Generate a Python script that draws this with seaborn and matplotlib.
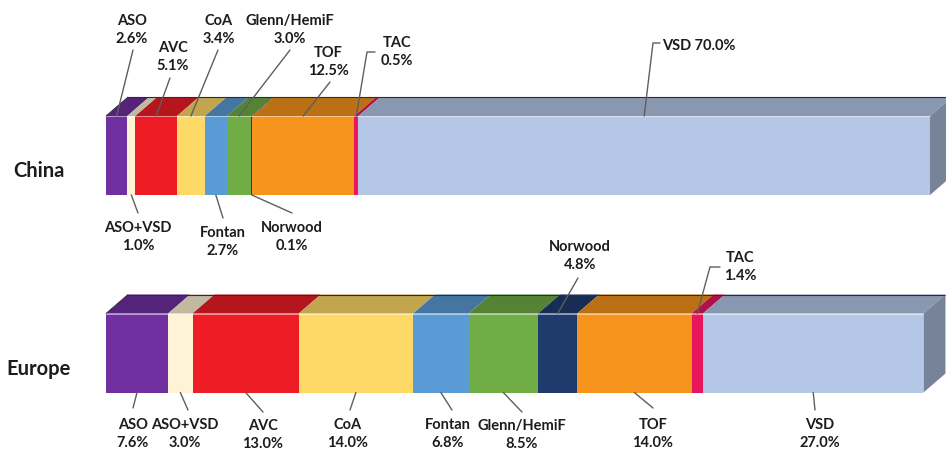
import matplotlib
matplotlib.use("Agg")
import matplotlib.pyplot as plt
import numpy as np
import pandas as pd
import seaborn as sns
from matplotlib.patches import Polygon
from matplotlib.colors import to_rgb

# ---- data -------------------------------------------------------------
regions = ["China", "Europe"]
procedures = ["ASO", "ASO+VSD", "AVC", "CoA", "Fontan", "Glenn/HemiF",
              "Norwood", "TOF", "TAC", "VSD"]
china_pct = [2.6, 1.0, 5.1, 3.4, 2.7, 3.0, 0.1, 12.5, 0.5, 70.0]
europe_pct = [7.6, 3.0, 13.0, 14.0, 6.8, 8.5, 4.8, 14.0, 1.4, 27.0]
colors = ["#7030A0", "#FFF3D6", "#EE1C25", "#FFD966", "#5B9BD5", "#70AD47",
          "#1F3B6E", "#F7941D", "#E8175D", "#B4C7E7"]

# ---- layout (pixels of a 946x450 canvas) ------------------------------
W, H = 946, 450
X0_PX = 106                    # where 0 % sits
PX_PER_PCT = 824 / 100.9
ROW_PX = [155.5, 353.0]        # vertical centres of the two bars
ROW_GAP = ROW_PX[1] - ROW_PX[0]
BAR_H = 0.40                   # bar thickness in category units
DEPTH_X, DEPTH_Y = 22, 19      # oblique depth of the 3-D faces, pixels

# label placement: side, text centre, leader points (text end first)
label_layout = {
    ("China", "ASO"): ("top", (132, 30), [(133, 50)]),
    ("China", "ASO+VSD"): ("bottom", (138, 237), [(138, 213)]),
    ("China", "AVC"): ("top", (173, 57), [(170, 78)]),
    ("China", "CoA"): ("top", (219, 30), [(218, 50)]),
    ("China", "Fontan"): ("bottom", (223, 242), [(223, 218)]),
    ("China", "Glenn/HemiF"): ("top", (290, 30), [(290, 50)]),
    ("China", "Norwood"): ("bottom", (292, 237), [(292, 213)]),
    ("China", "TOF"): ("top", (328, 62), [(330, 82)]),
    ("China", "TAC"): ("top", (397, 52), [(375, 52), (367, 52)]),
    ("China", "VSD"): ("inline", (699, 46), [(660, 43), (653, 43)]),
    ("Europe", "ASO"): ("bottom", (133, 434), [(133, 408)]),
    ("Europe", "ASO+VSD"): ("bottom", (185, 434), [(188, 410)]),
    ("Europe", "AVC"): ("bottom", (263, 435), [(263, 412)]),
    ("Europe", "CoA"): ("bottom", (348, 434), [(350, 410)]),
    ("Europe", "Fontan"): ("bottom", (448, 434), [(452, 410)]),
    ("Europe", "Glenn/HemiF"): ("bottom", (522, 435), [(522, 412)]),
    ("Europe", "Norwood"): ("top", (580, 256), [(578, 278)]),
    ("Europe", "TOF"): ("bottom", (653, 434), [(653, 408)]),
    ("Europe", "TAC"): ("top", (740, 267), [(720, 267), (710, 267)]),
    ("Europe", "VSD"): ("bottom", (820, 434), [(815, 410)]),
}


def px_to_data(px, py):
    return (px - X0_PX) / PX_PER_PCT, (py - ROW_PX[0]) / ROW_GAP


def shade(c, f):
    r, g, b = to_rgb(c)
    return (r * f, g * f, b * f)


# ---- tidy table with stacked extents ---------------------------------
rows = []
for region, vals in zip(regions, [china_pct, europe_pct]):
    left = 0.0
    for proc, v, col in zip(procedures, vals, colors):
        rows.append(dict(region=region, procedure=proc, value=v,
                         left=left, right=left + v, color=col))
        left += v
df = pd.DataFrame(rows)

sns.set_theme(style="white")
plt.rcParams["font.family"] = ["Lato", "DejaVu Sans"]

fig = plt.figure(figsize=(W / 100, H / 100), dpi=100)
ax = fig.add_axes([0, 0, 1, 1])

# front faces: cumulative bars, widest first so each segment shows through
for proc, col in zip(reversed(procedures), reversed(colors)):
    sub = df[df["procedure"] == proc]
    sns.barplot(data=sub, x="right", y="region", order=regions, orient="h",
                color=col, saturation=1, width=BAR_H, linewidth=0,
                ax=ax, zorder=2)

dx = DEPTH_X / PX_PER_PCT
dy = DEPTH_Y / ROW_GAP
half = BAR_H / 2

# top faces and the right-hand end face
for i, region in enumerate(regions):
    sub = df[df["region"] == region]
    ytop = i - half
    for _, r in sub.iterrows():
        poly = [(r.left, ytop), (r.right, ytop),
                (r.right + dx, ytop - dy), (r.left + dx, ytop - dy)]
        ax.add_patch(Polygon(poly, closed=True, facecolor=shade(r.color, 0.76),
                             edgecolor="none", zorder=2))
    end = sub["right"].iloc[-1]
    last_col = sub["color"].iloc[-1]
    side = [(end, ytop), (end + dx, ytop - dy),
            (end + dx, i + half - dy), (end, i + half)]
    ax.add_patch(Polygon(side, closed=True, facecolor=shade(last_col, 0.66),
                         edgecolor="none", zorder=2))
    # dark back edge of the top face
    ax.plot([dx, end + dx], [ytop - dy, ytop - dy], color="#2b2b3a",
            lw=0.8, zorder=3, solid_capstyle="butt")
    ax.plot([0, dx], [ytop, ytop - dy], color="#2b2b3a", lw=0.6, zorder=3)
    # faint light rim along the front face top
    ax.plot([0, end], [ytop, ytop], color="white", lw=0.6, alpha=0.6, zorder=3)

# leader lines and labels
for (region, proc), (side, tpos, pts) in label_layout.items():
    i = regions.index(region)
    r = df[(df["region"] == region) & (df["procedure"] == proc)].iloc[0]
    ax_x = (r.left + r.right) / 2
    ax_y = i + half if side == "bottom" else i - half
    line_pts = [px_to_data(*p) for p in pts] + [(ax_x, ax_y)]
    xs, ys = zip(*line_pts)
    ax.plot(xs, ys, color="#5e5e5e", lw=1.0, zorder=4)
    if side == "inline":
        txt = f"{proc} {r.value:.1f}%"
    else:
        txt = f"{proc}\n{r.value:.1f}%"
    tx, ty = px_to_data(*tpos)
    ax.text(tx, ty, txt, ha="center", va="center", fontsize=10.5,
            fontweight="bold", color="#1c1c1c", linespacing=1.45, zorder=5)

# region names on the left
for i, region in enumerate(regions):
    tx, _ = px_to_data(39, 0)
    ax.text(tx, i + 0.08, region, ha="center", va="center", fontsize=14.5,
            fontweight="bold", color="#1c1c1c")

ax.set_xlim(-X0_PX / PX_PER_PCT, (W - X0_PX) / PX_PER_PCT)
ax.set_ylim((H - ROW_PX[0]) / ROW_GAP, -ROW_PX[0] / ROW_GAP)
ax.set_axis_off()

fig.savefig("out.png", dpi=100)
